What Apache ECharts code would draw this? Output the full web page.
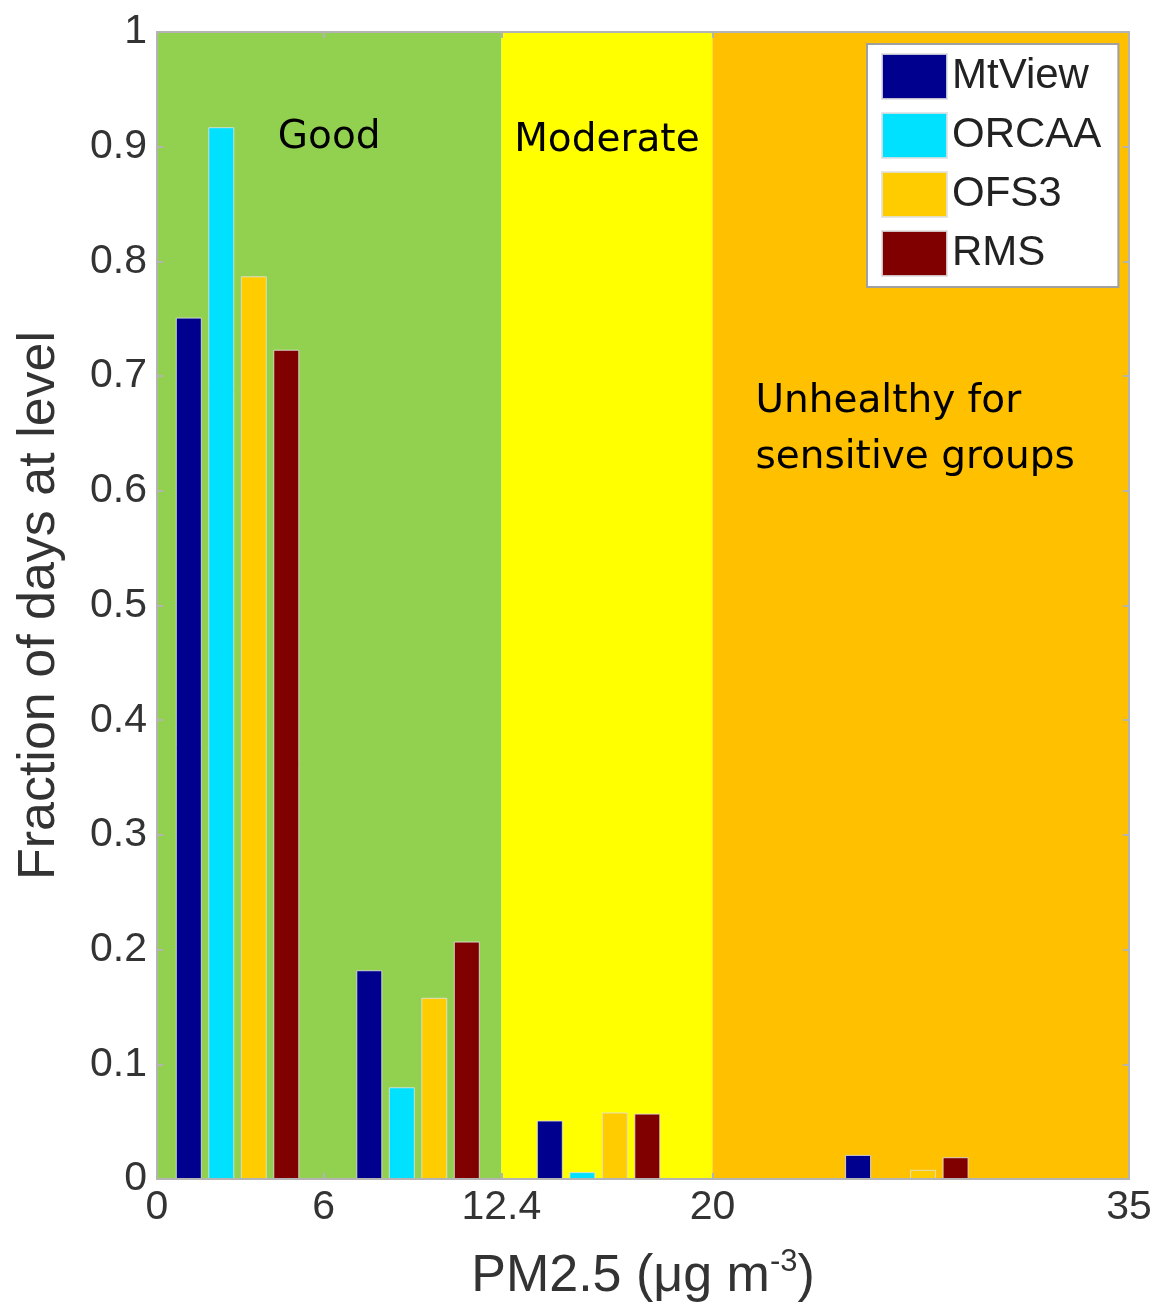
<!DOCTYPE html>
<html>
<head>
<meta charset="utf-8">
<script src="https://cdn.jsdelivr.net/npm/echarts@6/dist/echarts.min.js"></script>
<style>
html,body{margin:0;padding:0;background:#fff;}
#chart{width:1156px;height:1311px;}
</style>
</head>
<body>
<div id="chart"></div>
<script>
// ---- data ----
const xTicks = [0, 6, 12.4, 20, 35];
const binCenters = [2.9, 9.4, 15.9, 27.0];
const seriesNames = ['MtView', 'ORCAA', 'OFS3', 'RMS'];
const mtView = [0.751, 0.182, 0.051, 0.021];
const orcaa  = [0.917, 0.080, 0.006, 0];
const ofs3   = [0.787, 0.158, 0.058, 0.008];
const rms    = [0.723, 0.207, 0.057, 0.019];
const bandEdges = [0, 12.4, 20, 35];
const bandNames = ['Good', 'Moderate', 'Unhealthy for\nsensitive groups'];

// ---- styles ----
const seriesColors = ['#00008f', '#00e1ff', '#ffcc00', '#800000'];
const bandColors = ['#92d050', '#ffff00', '#ffc000'];
const bandLabelPos = [['50%', 106], ['50%', 109], [43, 398]];
const bandLabelAlign = ['center', 'center', 'left'];
const axisGray = '#b4b4b4';
const labelFont = '"Liberation Sans", Arial, Helvetica, sans-serif';

const allValues = [mtView, orcaa, ofs3, rms];

const chart = echarts.init(document.getElementById('chart'), null, {renderer: 'canvas'});

const bandData = bandNames.map((n, i) => [
  {
    xAxis: bandEdges[i],
    name: n,
    itemStyle: {color: bandColors[i], opacity: 1},
    label: {
      show: true,
      position: bandLabelPos[i],
      align: bandLabelAlign[i],
      verticalAlign: 'middle',
      formatter: n,
      color: '#000',
      fontFamily: '"DejaVu Sans", sans-serif',
      fontSize: 39,
      lineHeight: 56
    }
  },
  {xAxis: bandEdges[i + 1]}
]);

const barSeries = seriesNames.map((name, s) => ({
  name: name,
  type: 'bar',
  xAxisIndex: 0,
  yAxisIndex: 0,
  z: 3,
  barWidth: 26,
  barGap: '25%',
  itemStyle: {color: seriesColors[s], borderColor: 'rgba(225,225,225,0.85)', borderWidth: 1},
  data: binCenters.map((x, i) => [x, allValues[s][i]])
}));

const bandSeries = {
  name: 'bands',
  type: 'line',
  xAxisIndex: 0,
  yAxisIndex: 0,
  z: 0,
  data: [],
  silent: true,
  markArea: {
    silent: true,
    z: 0,
    data: bandData
  }
};

const tickStyle = {show: true, inside: true, length: 6, lineStyle: {color: axisGray, width: 2}};

const option = {
  backgroundColor: '#ffffff',
  animation: false,
  grid: {left: 157, top: 32, right: 27, bottom: 132, containLabel: false, outerBoundsMode: 'none'},
  legend: {
    data: seriesNames,
    orient: 'vertical',
    left: 867,
    top: 44,
    padding: [9, 17, 10, 14],
    itemWidth: 65,
    itemHeight: 45,
    itemGap: 12,
    selectedMode: false,
    icon: 'rect',
    backgroundColor: '#ffffff',
    borderColor: '#a0a0a0',
    borderWidth: 2,
    textStyle: {fontSize: 42, color: '#222', fontFamily: labelFont}
  },
  xAxis: [
    {
      type: 'value', min: 0, max: 35, position: 'bottom', z: 5,
      name: '{a|PM2.5 (μg m}{s|-3}{a|)}',
      nameLocation: 'middle',
      nameGap: 68,
      nameTextStyle: {
        rich: {
          a: {fontSize: 52, color: '#333', fontFamily: labelFont},
          s: {fontSize: 31, color: '#333', fontFamily: labelFont, padding: [0, 0, 28, 0]}
        }
      },
      splitLine: {show: false},
      axisLine: {show: true, onZero: false, lineStyle: {color: axisGray, width: 2}},
      axisTick: Object.assign({customValues: xTicks}, tickStyle),
      axisLabel: {
        customValues: xTicks,
        fontSize: 41, color: '#333', fontFamily: labelFont, margin: 8,
        formatter: v => String(v)
      }
    },
    {
      type: 'value', min: 0, max: 35, position: 'top', z: 5,
      splitLine: {show: false},
      axisLine: {show: true, onZero: false, lineStyle: {color: axisGray, width: 2}},
      axisTick: Object.assign({customValues: xTicks}, tickStyle),
      axisLabel: {show: false}
    }
  ],
  yAxis: [
    {
      type: 'value', min: 0, max: 1, interval: 0.1, position: 'left', z: 5,
      name: 'Fraction of days at level',
      nameLocation: 'middle',
      nameRotate: 90,
      nameGap: 91,
      nameTextStyle: {fontSize: 52, color: '#333', fontFamily: labelFont},
      splitLine: {show: false},
      axisLine: {show: true, onZero: false, lineStyle: {color: axisGray, width: 2}},
      axisTick: tickStyle,
      axisLabel: {fontSize: 41, color: '#333', fontFamily: labelFont, margin: 10}
    },
    {
      type: 'value', min: 0, max: 1, interval: 0.1, position: 'right', z: 5,
      splitLine: {show: false},
      axisLine: {show: true, onZero: false, lineStyle: {color: axisGray, width: 2}},
      axisTick: tickStyle,
      axisLabel: {show: false}
    }
  ],
  series: [bandSeries].concat(barSeries)
};

chart.setOption(option);
</script>
</body>
</html>
